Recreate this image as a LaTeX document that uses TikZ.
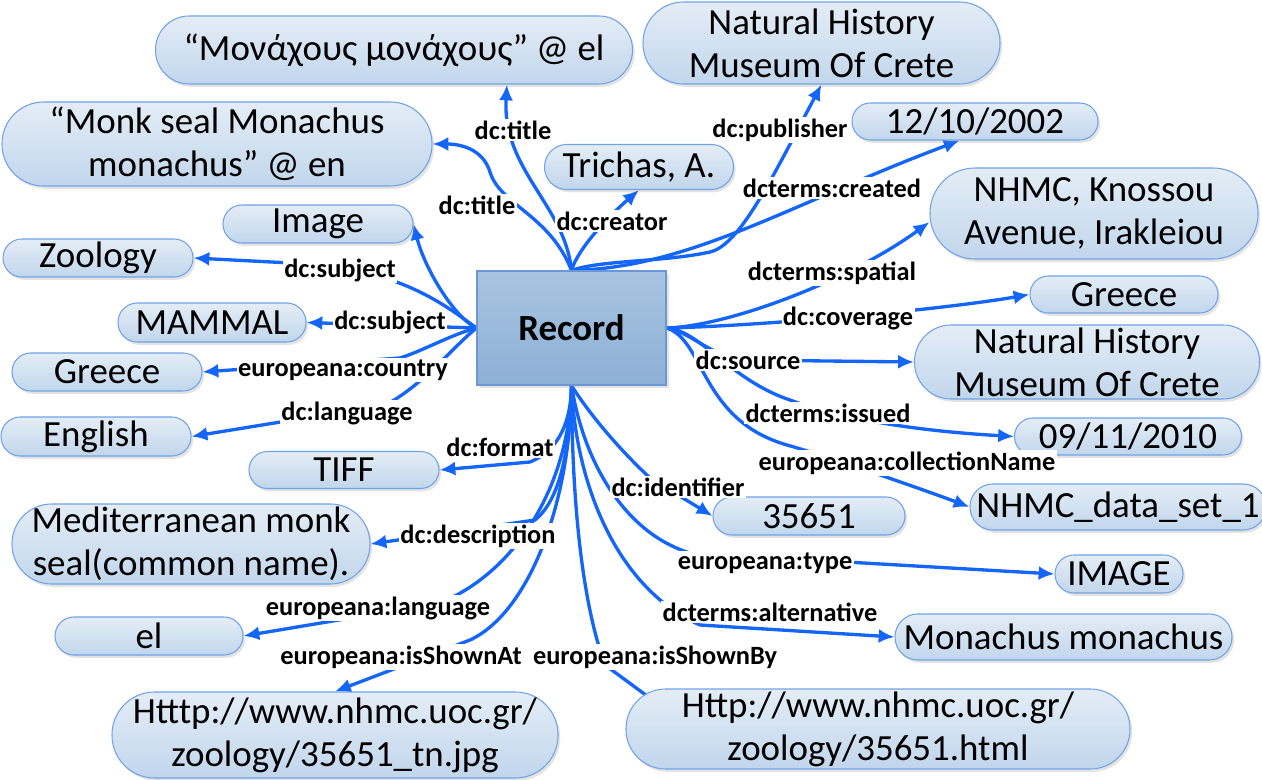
\documentclass[tikz,border=0pt]{standalone}
\usepackage{fontspec}
\setmainfont{Carlito}
\usetikzlibrary{arrows.meta,shadows,calc}
\definecolor{wire}{RGB}{20,102,250}
\definecolor{vtop}{RGB}{228,237,246}
\definecolor{vbot}{RGB}{193,214,236}
\definecolor{vline}{RGB}{112,162,232}
\definecolor{rtop}{RGB}{168,196,224}
\definecolor{rbot}{RGB}{141,176,214}
\definecolor{rline}{RGB}{108,150,212}
\newcommand\valfont{\fontsize{21}{24.4}\selectfont}
\newcommand\lblfont{\bfseries\fontsize{15}{17}\selectfont}
\pgfdeclarelayer{wires}
\pgfsetlayers{wires,main}

\begin{document}
\begin{tikzpicture}[x=0.02cm,y=-0.02cm,
  val/.style 2 args={rectangle, draw=vline, line width=0.6pt,
    top color=vtop, bottom color=vbot,
    minimum width=#1*0.02cm, minimum height=#2*0.02cm,
    rounded corners=#2*0.0099cm, inner sep=0pt, align=center, font=\valfont,
    drop shadow={shadow xshift=1.2pt, shadow yshift=-1.6pt, opacity=0.22}},
  hub/.style={rectangle, draw=rline, line width=0.6pt,
    top color=rtop, bottom color=rbot,
    minimum width=189*0.02cm, minimum height=114*0.02cm, inner sep=0pt,
    font=\bfseries\fontsize{21}{24}\selectfont,
    drop shadow={shadow xshift=1.6pt, shadow yshift=-1.8pt, opacity=0.22}},
  lbl/.style={fill=white, inner sep=0.8pt, font=\lblfont},
  wireonly/.style={draw=wire, line width=1.9pt},
  link/.style={wireonly, -{Latex[length=9pt,width=8pt]}}
]
\useasboundingbox (0,0) rectangle (1262,780);

% central resource
\node[hub] (rec) at (571.5,328) {Record};

% property values
\node[val={477}{68}] (greek) at (394,50) {“Μονάχους μονάχους” @ el};
\node[val={357}{82}] (nhtop) at (821.5,43) {Natural History\\Museum Of Crete};
\node[val={246}{37}] (date1) at (975,121.5) {12/10/2002};
\node[val={189}{45}] (trichas) at (639,167) {Trichas, A.};
\node[val={430}{84}] (monk) at (217,144) {“Monk seal Monachus\\monachus” @ en};
\node[val={328}{91}] (knossou) at (1094,213.5) {NHMC, Knossou\\Avenue, Irakleiou};
\node[val={190}{38}] (image) at (318,224) {Image};
\node[val={190}{38}] (zoology) at (98,258) {Zoology};
\node[val={188}{39}] (mammal) at (212,322.5) {MAMMAL};
\node[val={190}{38}] (greeceL) at (107,372) {Greece};
\node[val={190}{39}] (english) at (96,436.5) {English};
\node[val={190}{37}] (tiff) at (344,470) {TIFF};
\node[val={188}{37}] (greeceR) at (1124,294.5) {Greece};
\node[val={345}{74}] (nhright) at (1087,362) {Natural History\\Museum Of Crete};
\node[val={227}{37}] (issued) at (1128,436.5) {09/11/2010};
\node[val={296}{46}] (coll) at (1118,507) {NHMC\_data\_set\_1};
\node[val={192}{38}] (ident) at (809,516) {35651};
\node[val={128}{38}] (typeval) at (1119,574) {IMAGE};
\node[val={337}{46}] (altval) at (1063.5,637) {Monachus monachus};
\node[val={504}{80}] (html) at (878,729) {Http://www.nhmc.uoc.gr/\\zoology/35651.html};
\node[val={446}{86}] (tn) at (335,735) {Htttp://www.nhmc.uoc.gr/\\zoology/35651\_tn.jpg};
\node[val={188}{38}] (el) at (149,636) {el};
\node[val={358}{80}] (med) at (191,544) {Mediterranean monk\\seal(common name).};

\begin{pgfonlayer}{wires}
% from the top side
\draw[link] (rec.north) .. controls (565,205) and (502,170) .. (greek.-17.8);
\draw[link] (rec.north) .. controls (550,215) and (500,205) .. (490,172)
            .. controls (484,152) and (465,144) .. (monk.east);
\draw[link] (rec.north) .. controls (578,248) and (610,215) .. (trichas.south);
\draw[link] (rec.north) .. controls (600,260) and (665,262) .. (710,252)
            .. controls (740,245) and (772,178) .. (nhtop.south);
\draw[link] (rec.north) .. controls (690,268) and (790,204) .. (date1.-129);
% from the left side
\draw[link] (rec.west) .. controls (455,318) and (425,270) .. (image.east);
\draw[link] (rec.west) .. controls (445,305) and (410,278) .. (330,265) -- (zoology.east);
\draw[link] (rec.west) -- (mammal.east);
\draw[link] (rec.west) .. controls (450,335) and (425,350) .. (400,358) -- (greeceL.east);
\draw[link] (rec.west) .. controls (455,345) and (420,388) .. (385,405) -- (english.east);
% from the right side
\draw[link] (rec.east) .. controls (730,326) and (850,280) .. (knossou.183.7);
\draw[link] (rec.east) .. controls (760,326) and (940,310) .. (greeceR.west);
\draw[link] (rec.east) .. controls (690,332) and (705,352) .. (740,360) -- (nhright.west);
\draw[link] (rec.east) .. controls (700,330) and (730,380) .. (790,400)
            .. controls (830,415) and (900,430) .. (issued.west);
\draw[link] (rec.east) .. controls (705,340) and (700,420) .. (787,445)
            .. controls (830,457) and (930,492) .. (coll.west);
% from the bottom side
\draw[link] (rec.south) .. controls (571,420) and (560,450) .. (530,462) -- (tiff.east);
\draw[link] (rec.south) .. controls (570,450) and (560,500) .. (535,520) -- (med.east);
\draw[link] (rec.south) .. controls (570,480) and (520,570) .. (440,603) -- (el.east);
\draw[link] (rec.south) .. controls (571,500) and (530,612) .. (470,640) -- (tn.north);
\draw[wireonly] (rec.south) .. controls (572,520) and (585,610) .. (605,665)
            -- ($(html.north west)+(25,10)$);
\draw[link] (rec.south) .. controls (576,490) and (620,590) .. (700,625) -- (altval.west);
\draw[link] (rec.south) .. controls (585,470) and (630,535) .. (690,553) -- (typeval.west);
\draw[link] (rec.south) .. controls (590,415) and (620,450) .. (650,478) -- (ident.west);
\end{pgfonlayer}

% property names
\node[lbl] (pTitleEl) at (513,130) {dc:title};
\node[lbl] (pTitleEn) at (477,205) {dc:title};
\node[lbl] (pCreator) at (612,221) {dc:creator};
\node[lbl] (pPublisher) at (780,130) {dc:publisher};
\node[lbl] (pCreated) at (832,188) {dcterms:created};
\node[lbl] (pSubjA) at (340,270) {dc:subject};
\node[lbl] (pSubjB) at (390,322) {dc:subject};
\node[lbl] (pCountry) at (343,370) {europeana:country};
\node[lbl] (pLang) at (347,413) {dc:language};
\node[lbl] (pSpatial) at (832,273) {dcterms:spatial};
\node[lbl] (pCoverage) at (848,318) {dc:coverage};
\node[lbl] (pSource) at (748,360) {dc:source};
\node[lbl] (pIssued) at (828,413) {dcterms:issued};
\node[lbl] (pColl) at (907,463) {europeana:collectionName};
\node[lbl] (pFormat) at (500,447) {dc:format};
\node[lbl] (pIdent) at (678,487) {dc:identifier};
\node[lbl] (pDesc) at (478,536) {dc:description};
\node[lbl] (pType) at (765,563) {europeana:type};
\node[lbl] (pAlt) at (770,612) {dcterms:alternative};
\node[lbl] (pELang) at (378,608) {europeana:language};
\node[lbl] (pShownAt) at (401,657) {europeana:isShownAt};
\node[lbl] (pShownBy) at (655,657) {europeana:isShownBy};
\end{tikzpicture}
\end{document}
